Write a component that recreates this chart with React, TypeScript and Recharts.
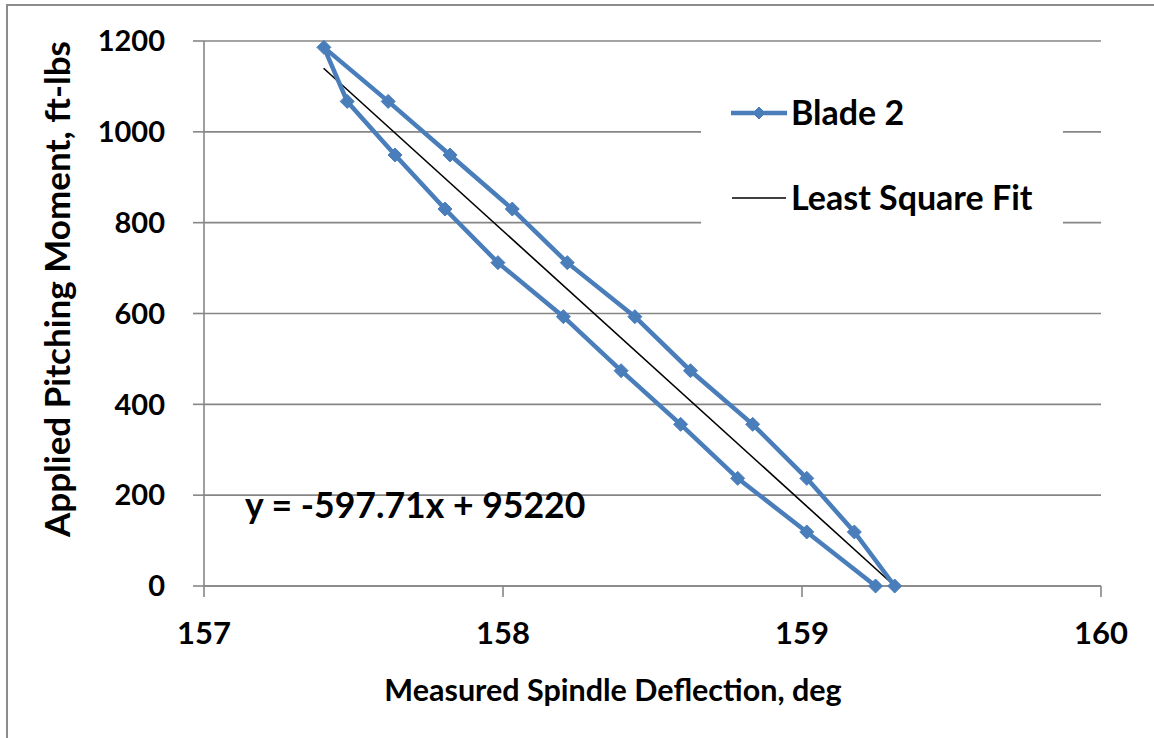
import React from 'react';
import { ComposedChart, Line, XAxis, YAxis, CartesianGrid, Legend } from 'recharts';

// Blade 2 loop: loading up the right branch, unloading down the left branch
const moments = [0, 119, 237, 356, 474, 593, 712, 830, 949, 1067, 1186, 1067, 949, 830, 712, 593, 474, 356, 237, 119, 0];
const deflections = [
  159.31, 159.175, 159.016, 158.835, 158.627, 158.441, 158.215, 158.031, 157.823, 157.616, 157.401,
  157.479, 157.639, 157.806, 157.983, 158.202, 158.395, 158.594, 158.785, 159.016, 159.246,
];

// least square fit end points, y = -597.71x + 95220
const fitDeflections = [157.4, 159.31];
const fitMoments = [1140, 0];

const xTicks = [157, 158, 159, 160];
const yTicks = [0, 200, 400, 600, 800, 1000, 1200];

const BLUE = '#4A7EBB';
const GRID = '#868686';
const FONT = 'Lato, "Open Sans", sans-serif';

const bladeData = deflections.map((x, i) => ({ x, y: moments[i] }));
const fitData = fitDeflections.map((x, i) => ({ x, y: fitMoments[i] }));

const Diamond = ({ cx, cy, r = 7 }: { cx: number; cy: number; r?: number }) => (
  <polygon
    points={`${cx},${cy - r} ${cx + r},${cy} ${cx},${cy + r} ${cx - r},${cy}`}
    fill={BLUE}
    stroke={BLUE}
    strokeWidth={1}
  />
);

const renderLegend = () => (
  <svg width={362} height={170} style={{ display: 'block' }}>
    <line x1={30} y1={33} x2={86} y2={33} stroke={BLUE} strokeWidth={4.5} />
    <Diamond cx={58} cy={33} r={6} />
    <text x={90} y={45} fontFamily={FONT} fontWeight={700} fontSize={34} fill="#000">
      Blade 2
    </text>
    <line x1={31} y1={118} x2={85} y2={118} stroke="#000" strokeWidth={1.5} />
    <text x={90} y={130} fontFamily={FONT} fontWeight={700} fontSize={34} fill="#000">
      Least Square Fit
    </text>
  </svg>
);

export default function App() {
  return (
    <div style={{ position: 'absolute', left: 0, top: 0, width: 1154, height: 738, overflow: 'hidden', background: '#fff' }}>
      <div
        style={{
          position: 'absolute',
          left: 6,
          top: 4,
          width: 1300,
          height: 900,
          border: '2px solid #8c8c8c',
        }}
      />
      <div style={{ position: 'absolute', left: 0, top: 0 }}>
        <ComposedChart width={1154} height={738} margin={{ top: 41, right: 53, bottom: 32, left: 0 }}>
          <CartesianGrid vertical={false} stroke={GRID} strokeWidth={1.6} />
          <XAxis
            type="number"
            dataKey="x"
            domain={[157, 160]}
            ticks={xTicks}
            height={120}
            stroke={GRID}
            strokeWidth={1.6}
            tickSize={11}
            tickMargin={25}
            tick={{ fill: '#000', fontSize: 31, fontWeight: 700, fontFamily: FONT }}
          />
          <YAxis
            type="number"
            dataKey="y"
            domain={[0, 1200]}
            ticks={yTicks}
            width={204}
            stroke={GRID}
            strokeWidth={1.6}
            tickSize={11}
            tickMargin={28}
            tick={{ fill: '#000', fontSize: 29, fontWeight: 700, fontFamily: FONT }}
          />
          <Legend
            layout="horizontal"
            verticalAlign="middle"
            align="center"
            content={renderLegend}
            wrapperStyle={{ left: 701, top: 80, width: 362, height: 170, background: '#fff' }}
          />
          <Line
            data={fitData}
            dataKey="y"
            name="Least Square Fit"
            type="linear"
            stroke="#000"
            strokeWidth={1.6}
            dot={false}
            isAnimationActive={false}
          />
          <Line
            data={bladeData}
            dataKey="y"
            name="Blade 2"
            type="linear"
            stroke={BLUE}
            strokeWidth={4.5}
            dot={(p: any) => <Diamond key={`d${p.index}`} cx={p.cx} cy={p.cy} />}
            isAnimationActive={false}
          />
        </ComposedChart>
      </div>
      <svg width={1154} height={738} style={{ position: 'absolute', left: 0, top: 0, pointerEvents: 'none' }}>
        <text
          x={613}
          y={701}
          textAnchor="middle"
          fontFamily={FONT}
          fontWeight={700}
          fontSize={30.5}
          fill="#000"
        >
          Measured Spindle Deflection, deg
        </text>
        <text
          transform="translate(70,289) rotate(-90)"
          textAnchor="middle"
          fontFamily={FONT}
          fontWeight={700}
          fontSize={35}
          fill="#000"
        >
          Applied Pitching Moment, ft-lbs
        </text>
        <text x={245} y={518} fontFamily={FONT} fontWeight={700} fontSize={35.6} fill="#000">
          y = -597.71x + 95220
        </text>
      </svg>
    </div>
  );
}
